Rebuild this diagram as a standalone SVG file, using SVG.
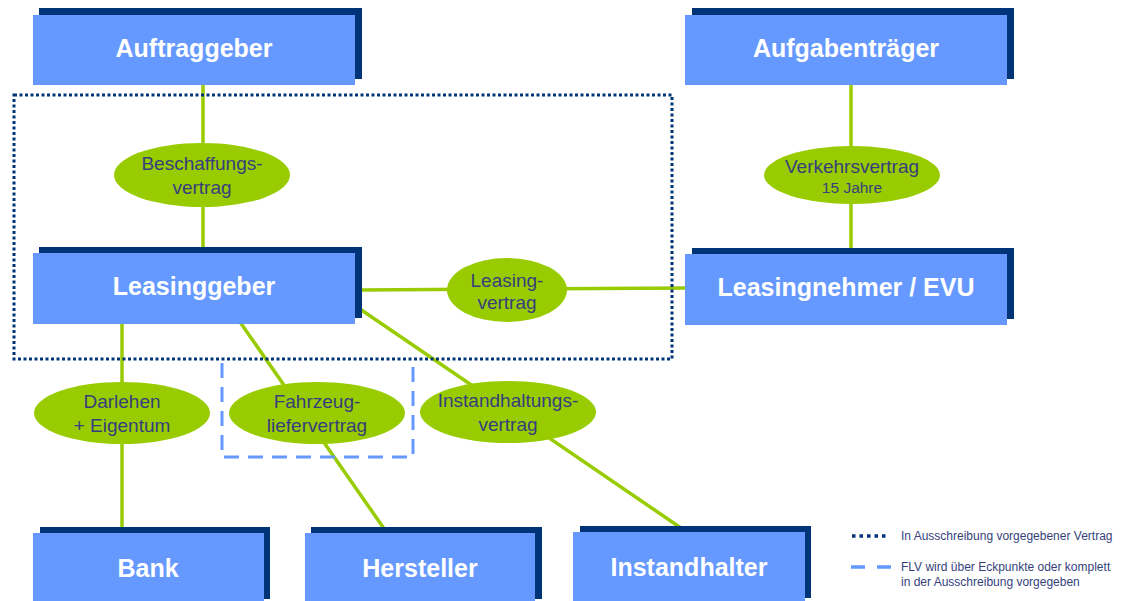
<svg xmlns="http://www.w3.org/2000/svg" width="1140" height="601" viewBox="0 0 1140 601">
<style>
.sh{fill:#003478}
.bx{fill:#6699ff}
.bt{font-family:"Liberation Sans",Arial,sans-serif;font-weight:bold;font-size:25px;fill:#ffffff;text-anchor:middle}
.el{fill:#99cc00}
.et{font-family:"Liberation Sans",Arial,sans-serif;font-size:19px;fill:#363f7c;text-anchor:middle}
.ln{stroke:#99cc00;stroke-width:3.5;fill:none}
.dot{stroke:#003478;stroke-width:3;fill:none;stroke-dasharray:3 2.5}
.dash{stroke:#6699ff;stroke-width:3;fill:none;stroke-dasharray:15 9}
.lg{font-family:"Liberation Sans",Arial,sans-serif;font-size:12px;fill:#363f7c}
</style>
<rect width="1140" height="601" fill="#ffffff"/>
<g id="connectors">
<line class="ln" x1="203" y1="85" x2="203" y2="250"/>
<line class="ln" x1="851" y1="85" x2="851" y2="250"/>
<line class="ln" x1="360" y1="290" x2="687" y2="288"/>
<line class="ln" x1="122" y1="322" x2="122" y2="530"/>
<line class="ln" x1="240" y1="322" x2="385" y2="530"/>
<line class="ln" x1="360" y1="309" x2="681" y2="528"/>
</g>
<g id="frame-ausschreibung">
<rect class="dot" x="14" y="95" width="658" height="264"/>
</g>
<g id="frame-flv">
<path class="dash" d="M222,363 V457 H413 V363"/>
</g>
<g id="auftraggeber">
<rect class="sh" x="39" y="8" width="323" height="71"/>
<rect class="bx" x="33" y="15" width="322" height="70"/>
<text class="bt" x="194" y="57">Auftraggeber</text>
</g>
<g id="aufgabentraeger">
<rect class="sh" x="692" y="8" width="322" height="71"/>
<rect class="bx" x="685" y="15" width="322" height="70"/>
<text class="bt" x="846" y="57">Aufgabenträger</text>
</g>
<g id="leasinggeber">
<rect class="sh" x="39" y="247" width="323" height="71"/>
<rect class="bx" x="33" y="253" width="322" height="71"/>
<text class="bt" x="194" y="295">Leasinggeber</text>
</g>
<g id="leasingnehmer">
<rect class="sh" x="692" y="248" width="322" height="71"/>
<rect class="bx" x="685" y="254" width="322" height="71"/>
<text class="bt" x="846" y="296">Leasingnehmer / EVU</text>
</g>
<g id="bank">
<rect class="sh" x="40" y="527" width="230" height="72"/>
<rect class="bx" x="33" y="533" width="231" height="72"/>
<text class="bt" x="148" y="577">Bank</text>
</g>
<g id="hersteller">
<rect class="sh" x="311" y="527" width="231" height="72"/>
<rect class="bx" x="305" y="533" width="230" height="72"/>
<text class="bt" x="420" y="577">Hersteller</text>
</g>
<g id="instandhalter">
<rect class="sh" x="580" y="526" width="231" height="72"/>
<rect class="bx" x="573" y="532" width="232" height="72"/>
<text class="bt" x="689" y="576">Instandhalter</text>
</g>
<g id="beschaffungsvertrag">
<ellipse class="el" cx="202" cy="175" rx="88" ry="32"/>
<text class="et" x="202" y="170">Beschaffungs-</text>
<text class="et" x="202" y="194">vertrag</text>
</g>
<g id="verkehrsvertrag">
<ellipse class="el" cx="852" cy="175" rx="88" ry="29"/>
<text class="et" x="852" y="173">Verkehrsvertrag</text>
<text class="et" x="852" y="193" style="font-size:15.5px">15 Jahre</text>
</g>
<g id="leasingvertrag">
<ellipse class="el" cx="507" cy="290" rx="60" ry="32"/>
<text class="et" x="507" y="287">Leasing-</text>
<text class="et" x="507" y="309">vertrag</text>
</g>
<g id="darlehen">
<ellipse class="el" cx="122" cy="413" rx="88" ry="31"/>
<text class="et" x="122" y="408">Darlehen</text>
<text class="et" x="122" y="432">+ Eigentum</text>
</g>
<g id="fahrzeuglieferverrag">
<ellipse class="el" cx="317" cy="413" rx="88" ry="31"/>
<text class="et" x="317" y="408">Fahrzeug-</text>
<text class="et" x="317" y="432">liefervertrag</text>
</g>
<g id="instandhaltungsvertrag">
<ellipse class="el" cx="508" cy="412" rx="88" ry="31"/>
<text class="et" x="508" y="407">Instandhaltungs-</text>
<text class="et" x="508" y="431">vertrag</text>
</g>
<g id="legend">
<line x1="852" y1="536" x2="888" y2="536" stroke="#003478" stroke-width="3.5" stroke-dasharray="3.5 4"/>
<text class="lg" x="901" y="540">In Ausschreibung vorgegebener  Vertrag</text>
<line x1="851" y1="567" x2="892" y2="567" stroke="#6699ff" stroke-width="3.5" stroke-dasharray="14 12"/>
<text class="lg" x="901" y="571">FLV wird über Eckpunkte oder komplett</text>
<text class="lg" x="901" y="586">in der Ausschreibung vorgegeben</text>
</g>
</svg>
